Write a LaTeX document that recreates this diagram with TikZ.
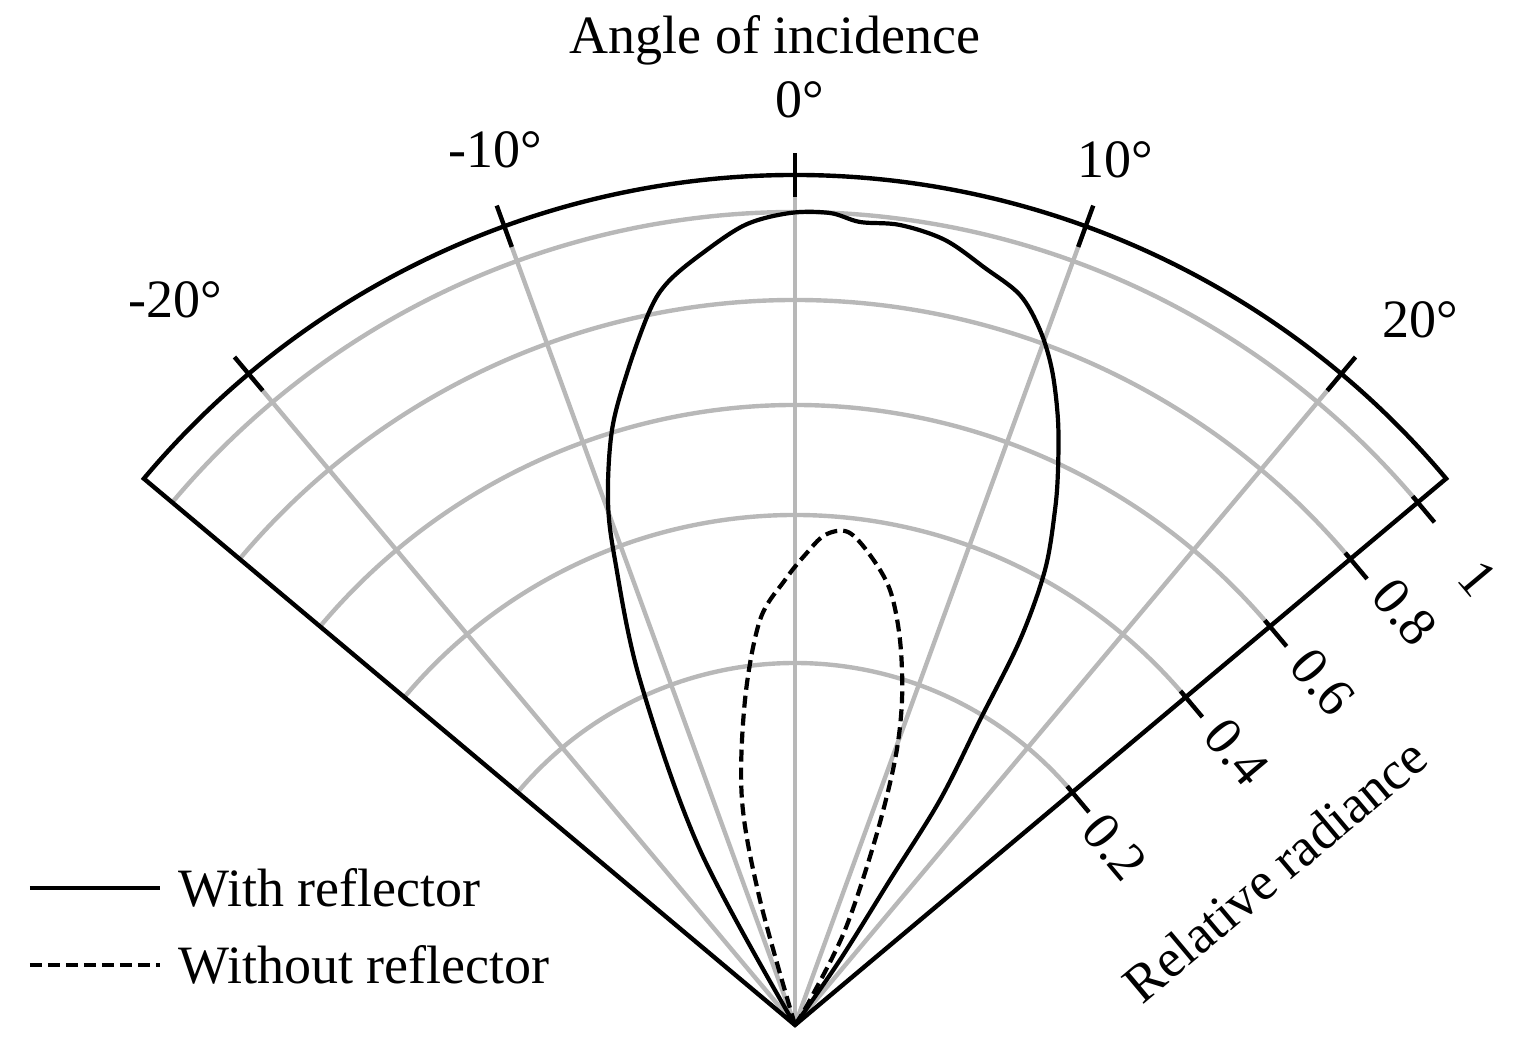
\documentclass[tikz,border=0pt]{standalone}
\usepackage{fontspec}
\setmainfont{Liberation Serif}
\usetikzlibrary{calc}
\begin{document}
\begin{tikzpicture}[x=0.5pt,y=0.5pt,
  grid/.style={draw=black!28,line width=2.2pt},
  axis/.style={draw=black,line width=2.2pt},
  lbl/.style={font=\fontsize{27}{31}\selectfont,inner sep=0pt},
  curve/.style={draw=black,line width=2.1pt}]
\useasboundingbox (-795,-30) rectangle (721,1025);
\coordinate (O) at (0,0);
% grey arcs
\foreach \r in {362,510,620,725,813}{
  \draw[grid] (140:\r) arc[start angle=140,end angle=40,radius=\r];}
% grey radial lines
\foreach \a in {50,70,90,110,130}{\draw[grid] (O) -- (\a:850);}
% frame
\draw[axis,line join=miter] (O) -- (140:850) arc[start angle=140,end angle=40,radius=850] -- cycle;
% outer ticks
\foreach \a in {50,70,90,110,130}{\draw[axis] (\a:828) -- (\a:872);}
% edge ticks
\foreach \r in {362,510,620,725,813}{
  \draw[axis] ($(40:\r)+(130:8)$) -- ($(40:\r)+(-50:26)$);}
% labels
\node[lbl] (t) at (-20,985) {Angle of incidence};
\node[lbl] (l0) at (5,925) {0°};
\node[lbl] (lm10) at (-300,875) {-10°};
\node[lbl] (l10) at (320,865) {10°};
\node[lbl] (lm20) at (-620,725) {-20°};
\node[lbl] (l20) at (625,705) {20°};
\node[lbl,rotate=-50] (r1) at (683,447) {1};
\node[lbl,rotate=-50] (r8) at (610,413) {0.8};
\node[lbl,rotate=-50] (r6) at (528,343) {0.6};
\node[lbl,rotate=-50] (r4) at (442,273) {0.4};
\node[lbl,rotate=-50] (r2) at (320,178) {0.2};
\node[lbl,rotate=40] (rr) at (480,155) {Relative radiance};
% curves
\draw[curve] plot[smooth,tension=0.55] coordinates {(0,0)(-95,175)(-155,345)(-180,465)(-187,525)(-183,595)(-167,655)(-145,715)(-127,743)(-95,770)(-50,800)(-5,812)(35,812)(65,803)(105,800)(150,785)(190,757)(225,730)(245,695)(257,655)(263,605)(263,555)(260,515)(250,455)(225,385)(185,305)(145,225)(95,145)(45,65)(0,0)};
\draw[curve,dash pattern=on 6pt off 3pt] plot[smooth,tension=0.55] coordinates {(0,0)(-35,125)(-53,225)(-50,325)(-35,405)(-10,445)(10,470)(30,490)(53,493)(75,470)(95,435)(105,385)(107,325)(100,265)(80,185)(50,95)(15,25)(0,0)};
% legend
\coordinate (a1) at (-765,137); \coordinate (a2) at (-635,137);
\coordinate (b1) at (-765,60); \coordinate (b2) at (-635,60);
\draw[curve] (a1) -- (a2);
\draw[curve,dash pattern=on 6pt off 3pt] (b1) -- (b2);
\node[lbl,anchor=west] (la) at (-617,137) {With reflector};
\node[lbl,anchor=west] (lb) at (-617,60) {Without reflector};
\end{tikzpicture}
\end{document}
